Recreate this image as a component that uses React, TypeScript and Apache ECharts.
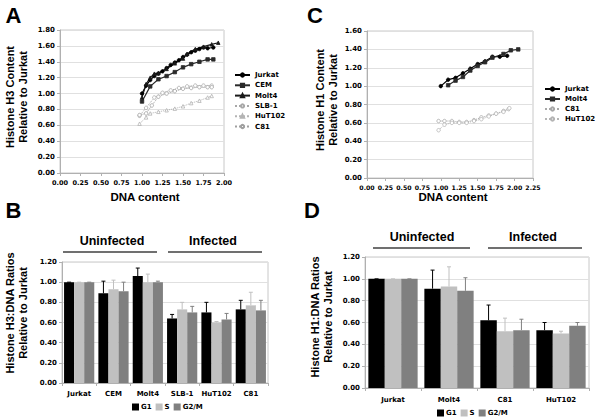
import React, { useEffect, useRef } from "react";
import * as echarts from "echarts";

// ---- Panel A: Histone H3 content vs DNA content ----
const aJurkat = [[1.0, 1.0], [1.05, 1.1], [1.1, 1.17], [1.15, 1.22], [1.2, 1.25], [1.25, 1.28], [1.3, 1.32], [1.35, 1.36], [1.4, 1.39], [1.45, 1.42], [1.5, 1.46], [1.55, 1.49], [1.6, 1.52], [1.65, 1.54], [1.7, 1.56], [1.75, 1.58], [1.8, 1.57], [1.87, 1.58]];
const aCEM = [[1.0, 0.9], [1.1, 1.09], [1.2, 1.18], [1.3, 1.22], [1.4, 1.27], [1.5, 1.33], [1.6, 1.37], [1.7, 1.4], [1.8, 1.43], [1.87, 1.43]];
const aMolt4 = [[1.0, 0.95], [1.05, 1.12], [1.1, 1.2], [1.15, 1.25], [1.2, 1.26], [1.3, 1.31], [1.4, 1.38], [1.5, 1.44], [1.55, 1.5], [1.65, 1.56], [1.75, 1.59], [1.85, 1.62], [1.93, 1.64]];
const aSLB1 = [[0.97, 0.72], [1.05, 0.82], [1.15, 0.95], [1.25, 1.01], [1.35, 1.04], [1.45, 1.07], [1.55, 1.09], [1.65, 1.1], [1.75, 1.1], [1.85, 1.1]];
const aHuT102 = [[0.97, 0.62], [1.05, 0.7], [1.1, 0.75], [1.2, 0.77], [1.3, 0.79], [1.4, 0.81], [1.5, 0.84], [1.6, 0.88], [1.7, 0.91], [1.8, 0.95], [1.85, 0.97]];
const aC81 = [[0.97, 0.73], [1.05, 0.75], [1.12, 0.85], [1.2, 0.96], [1.3, 1.0], [1.4, 1.03], [1.5, 1.06], [1.6, 1.07], [1.7, 1.08], [1.8, 1.08], [1.85, 1.08]];

// ---- Panel C: Histone H1 content vs DNA content ----
const cJurkat = [[1.0, 1.0], [1.1, 1.07], [1.2, 1.09], [1.3, 1.14], [1.4, 1.19], [1.5, 1.24], [1.6, 1.27], [1.7, 1.32], [1.8, 1.32], [1.9, 1.33]];
const cMolt4 = [[1.1, 1.01], [1.2, 1.06], [1.3, 1.1], [1.4, 1.17], [1.5, 1.22], [1.6, 1.26], [1.7, 1.31], [1.85, 1.35], [1.95, 1.39], [2.05, 1.4]];
const cC81 = [[0.97, 0.62], [1.05, 0.62], [1.15, 0.62], [1.25, 0.61], [1.35, 0.61], [1.45, 0.63], [1.55, 0.66], [1.65, 0.68], [1.75, 0.7], [1.85, 0.73], [1.92, 0.75]];
const cHuT102 = [[0.97, 0.52], [1.05, 0.58], [1.15, 0.6], [1.25, 0.6], [1.35, 0.6], [1.45, 0.62], [1.55, 0.64], [1.65, 0.67], [1.75, 0.7], [1.85, 0.72], [1.93, 0.76]];

// ---- Panel B: Histone H3:DNA ratios ----
const bCategories = ["Jurkat", "CEM", "Molt4", "SLB-1", "HuT102", "C81"];
const bG1 = [1.0, 0.89, 1.06, 0.64, 0.7, 0.73];
const bS = [1.0, 0.93, 1.0, 0.73, 0.6, 0.77];
const bG2M = [1.0, 0.91, 1.0, 0.7, 0.63, 0.72];
const bG1Top = [1.0, 1.01, 1.14, 0.68, 0.8, 0.82];
const bSTop = [1.0, 1.02, 1.08, 0.8, 0.61, 0.9];
const bG2MTop = [1.0, 1.0, 1.01, 0.76, 0.69, 0.82];

// ---- Panel D: Histone H1:DNA ratios ----
const dCategories = ["Jurkat", "Molt4", "C81", "HuT102"];
const dG1 = [1.0, 0.91, 0.62, 0.53];
const dS = [1.0, 0.93, 0.52, 0.5];
const dG2M = [1.0, 0.89, 0.53, 0.57];
const dG1Top = [1.0, 1.08, 0.76, 0.6];
const dSTop = [1.0, 1.11, 0.64, 0.52];
const dG2MTop = [1.0, 1.01, 0.63, 0.6];

const xTicksA = [0, 2, 0.25];
const yTicksA = [0, 1.8, 0.2];
const xTicksC = [0, 2.25, 0.25];
const yTicksC = [0, 1.6, 0.2];
const yTicksBar = [0, 1.2, 0.2];

const TICK_FONT = "DejaVu Sans";
const TITLE_FONT = "Liberation Sans";
const PHASE_COLORS = ["#000000", "#c0c0c0", "#808080"];
const CAT_GAP = 0.12;

function valueAxis(gridIndex: number, t: number[], extra: any = {}) {
  return {
    type: "value",
    gridIndex,
    min: t[0],
    max: t[1],
    interval: t[2],
    axisLine: { show: true, lineStyle: { color: "#b0b0b0", width: 1 } },
    axisTick: { show: true, length: 3, lineStyle: { color: "#b0b0b0" } },
    splitLine: { show: extra.split ?? false, lineStyle: { color: "#e0e0e0", width: 1 } },
    axisLabel: {
      color: "#000",
      fontFamily: TICK_FONT,
      fontWeight: "bold",
      fontSize: extra.fontSize ?? 7,
      margin: extra.margin ?? 5,
      formatter: (v: number) => v.toFixed(2),
    },
  };
}

function lineSeries(name: string, data: number[][], idx: number, color: string, symbol: string, dotted: boolean) {
  return {
    type: "line",
    name,
    data,
    xAxisIndex: idx,
    yAxisIndex: idx,
    symbol,
    symbolSize: 3.5,
    showSymbol: true,
    color,
    lineStyle: { color, width: dotted ? 1 : 1.2, type: dotted ? "dotted" : "solid" },
    itemStyle: { color: dotted ? "#fff" : color, borderColor: color, borderWidth: 0.8 },
    z: dotted ? 2 : 3,
  };
}

function barSeries(name: string, data: number[], idx: number, k: number) {
  return {
    type: "bar",
    name,
    data,
    xAxisIndex: idx,
    yAxisIndex: idx,
    barGap: "0%",
    barCategoryGap: CAT_GAP * 100 + "%",
    itemStyle: { color: PHASE_COLORS[k] },
    color: PHASE_COLORS[k],
  };
}

function errSeries(name: string, vals: number[], tops: number[], idx: number, k: number) {
  return {
    type: "custom",
    name,
    xAxisIndex: idx,
    yAxisIndex: idx,
    z: 5,
    data: vals.map((v, i) => [i, v, tops[i]]),
    renderItem: (params: any, api: any) => {
      const ci = api.value(0);
      const base = api.coord([ci, api.value(1)]);
      const top = api.coord([ci, api.value(2)]);
      const band = api.size([1, 0])[0];
      const bw = (band * (1 - CAT_GAP)) / 3;
      const x = base[0] + (k - 1) * bw;
      const stroke = PHASE_COLORS[k];
      return {
        type: "group",
        children: [
          { type: "line", shape: { x1: x, y1: base[1], x2: x, y2: top[1] }, style: { stroke, lineWidth: 1 } },
          { type: "line", shape: { x1: x - 2, y1: top[1], x2: x + 2, y2: top[1] }, style: { stroke, lineWidth: 1 } },
        ],
      };
    },
  };
}

function txt(text: string, x: number, y: number, font: string, extra: any = {}) {
  return {
    type: "text",
    x,
    y,
    rotation: extra.rotation ?? 0,
    style: {
      text,
      font,
      fill: "#000",
      textAlign: extra.align ?? "center",
      align: extra.align ?? "center",
      textVerticalAlign: "middle",
      verticalAlign: "middle",
      lineHeight: extra.lineHeight ?? 13,
    },
  };
}

function hline(x1: number, x2: number, y: number) {
  return { type: "line", shape: { x1, y1: y, x2, y2: y }, style: { stroke: "#404040", lineWidth: 1.5 } };
}

export default function App() {
  const ref = useRef<HTMLDivElement>(null);
  useEffect(() => {
    if (!ref.current) return;
    const chart = echarts.init(ref.current, undefined, { renderer: "svg" });
    const strip = (n: string) => n.slice(2);
    const legendText = { fontFamily: TICK_FONT, fontWeight: "bold", fontSize: 7, color: "#000", lineHeight: 8 };
    const option: any = {
      animation: false,
      backgroundColor: "#fff",
      grid: [
        { left: 60, top: 30, width: 164, height: 143, show: true, borderColor: "#c8c8c8", borderWidth: 1 },
        { left: 367, top: 31, width: 166, height: 147, show: true, borderColor: "#c8c8c8", borderWidth: 1 },
        { left: 62, top: 262, width: 206, height: 121, show: true, borderColor: "#c8c8c8", borderWidth: 1 },
        { left: 365, top: 257, width: 224, height: 131, show: true, borderColor: "#c8c8c8", borderWidth: 1 },
      ],
      xAxis: [
        valueAxis(0, xTicksA, { fontSize: 6.5, margin: 6 }),
        valueAxis(1, xTicksC, { fontSize: 6.2, margin: 6 }),
        {
          type: "category", gridIndex: 2, data: bCategories,
          axisLine: { lineStyle: { color: "#b0b0b0" } },
          axisTick: { show: true, length: 3, lineStyle: { color: "#b0b0b0" } },
          axisLabel: { color: "#000", fontFamily: TICK_FONT, fontWeight: "bold", fontSize: 7, margin: 7, interval: 0 },
        },
        {
          type: "category", gridIndex: 3, data: dCategories,
          axisLine: { lineStyle: { color: "#b0b0b0" } },
          axisTick: { show: true, length: 3, lineStyle: { color: "#b0b0b0" } },
          axisLabel: { color: "#000", fontFamily: TICK_FONT, fontWeight: "bold", fontSize: 7, margin: 8, interval: 0 },
        },
      ],
      yAxis: [
        valueAxis(0, yTicksA, { split: true }),
        valueAxis(1, yTicksC, { split: true }),
        valueAxis(2, yTicksBar, { split: true }),
        valueAxis(3, yTicksBar, { split: true }),
      ],
      legend: [
        {
          left: 234, top: 71, padding: 0, orient: "vertical", itemWidth: 15, itemHeight: 4, itemGap: 2.3,
          data: ["A:Jurkat", "A:CEM", "A:Molt4", "A:SLB-1", "A:HuT102", "A:C81"],
          formatter: strip, textStyle: legendText, selectedMode: false,
        },
        {
          left: 544, top: 85, padding: 0, orient: "vertical", itemWidth: 15, itemHeight: 4, itemGap: 2,
          data: ["C:Jurkat", "C:Molt4", "C:C81", "C:HuT102"],
          formatter: strip, textStyle: legendText, selectedMode: false,
        },
        {
          left: 132, top: 403, padding: 0, orient: "horizontal", itemWidth: 7, itemHeight: 7, itemGap: 4,
          icon: "rect", data: ["B:G1", "B:S", "B:G2/M"], formatter: strip,
          textStyle: { ...legendText, padding: [0, 0, 0, -3] }, selectedMode: false,
        },
        {
          left: 437, top: 409, padding: 0, orient: "horizontal", itemWidth: 7, itemHeight: 7, itemGap: 4,
          icon: "rect", data: ["D:G1", "D:S", "D:G2/M"], formatter: strip,
          textStyle: { ...legendText, padding: [0, 0, 0, -3] }, selectedMode: false,
        },
      ],
      series: [
        lineSeries("A:Jurkat", aJurkat, 0, "#000000", "circle", false),
        lineSeries("A:CEM", aCEM, 0, "#2a2a2a", "rect", false),
        lineSeries("A:Molt4", aMolt4, 0, "#1a1a1a", "triangle", false),
        lineSeries("A:SLB-1", aSLB1, 0, "#a8a8a8", "circle", true),
        lineSeries("A:HuT102", aHuT102, 0, "#b4b4b4", "triangle", true),
        lineSeries("A:C81", aC81, 0, "#a0a0a0", "circle", true),
        lineSeries("C:Jurkat", cJurkat, 1, "#000000", "circle", false),
        lineSeries("C:Molt4", cMolt4, 1, "#2a2a2a", "rect", false),
        lineSeries("C:C81", cC81, 1, "#a8a8a8", "circle", true),
        lineSeries("C:HuT102", cHuT102, 1, "#b4b4b4", "circle", true),
        barSeries("B:G1", bG1, 2, 0),
        barSeries("B:S", bS, 2, 1),
        barSeries("B:G2/M", bG2M, 2, 2),
        errSeries("eB0", bG1, bG1Top, 2, 0),
        errSeries("eB1", bS, bSTop, 2, 1),
        errSeries("eB2", bG2M, bG2MTop, 2, 2),
        barSeries("D:G1", dG1, 3, 0),
        barSeries("D:S", dS, 3, 1),
        barSeries("D:G2/M", dG2M, 3, 2),
        errSeries("eD0", dG1, dG1Top, 3, 0),
        errSeries("eD1", dS, dSTop, 3, 1),
        errSeries("eD2", dG2M, dG2MTop, 3, 2),
      ],
      graphic: [
        txt("A", 13.5, 15.5, `bold 22px "${TITLE_FONT}"`),
        txt("C", 315, 15.5, `bold 22px "${TITLE_FONT}"`),
        txt("B", 13.5, 210, `bold 22px "${TITLE_FONT}"`),
        txt("D", 312, 210, `bold 22px "${TITLE_FONT}"`),
        txt("Histone H3 Content\nRelative to Jurkat", 16.5, 97, `bold 11px "${TITLE_FONT}"`, { rotation: Math.PI / 2 }),
        txt("Histone H1 Content\nRelative to Jurkat", 326.5, 100, `bold 11px "${TITLE_FONT}"`, { rotation: Math.PI / 2 }),
        txt("Histone H3:DNA Ratios\nRelative to Jurkat", 16, 313, `bold 11px "${TITLE_FONT}"`, { rotation: Math.PI / 2 }),
        txt("Histone H1:DNA Ratios\nRelative to Jurkat", 321.5, 317, `bold 11px "${TITLE_FONT}"`, { rotation: Math.PI / 2 }),
        txt("DNA content", 145, 197, `bold 11.5px "${TITLE_FONT}"`),
        txt("DNA content", 453, 197, `bold 11.5px "${TITLE_FONT}"`),
        txt("Uninfected", 112, 241, `bold 12.5px "${TITLE_FONT}"`),
        txt("Infected", 213, 241, `bold 12.5px "${TITLE_FONT}"`),
        hline(63, 157, 252),
        hline(168, 262, 252),
        txt("Uninfected", 422, 237, `bold 12.5px "${TITLE_FONT}"`),
        txt("Infected", 533, 237, `bold 12.5px "${TITLE_FONT}"`),
        hline(373, 470, 248),
        hline(488, 582, 248),
      ],
    };
    chart.setOption(option);
    return () => chart.dispose();
  }, []);
  return <div ref={ref} style={{ position: "fixed", left: 0, top: 0, width: 600, height: 420 }} />;
}
